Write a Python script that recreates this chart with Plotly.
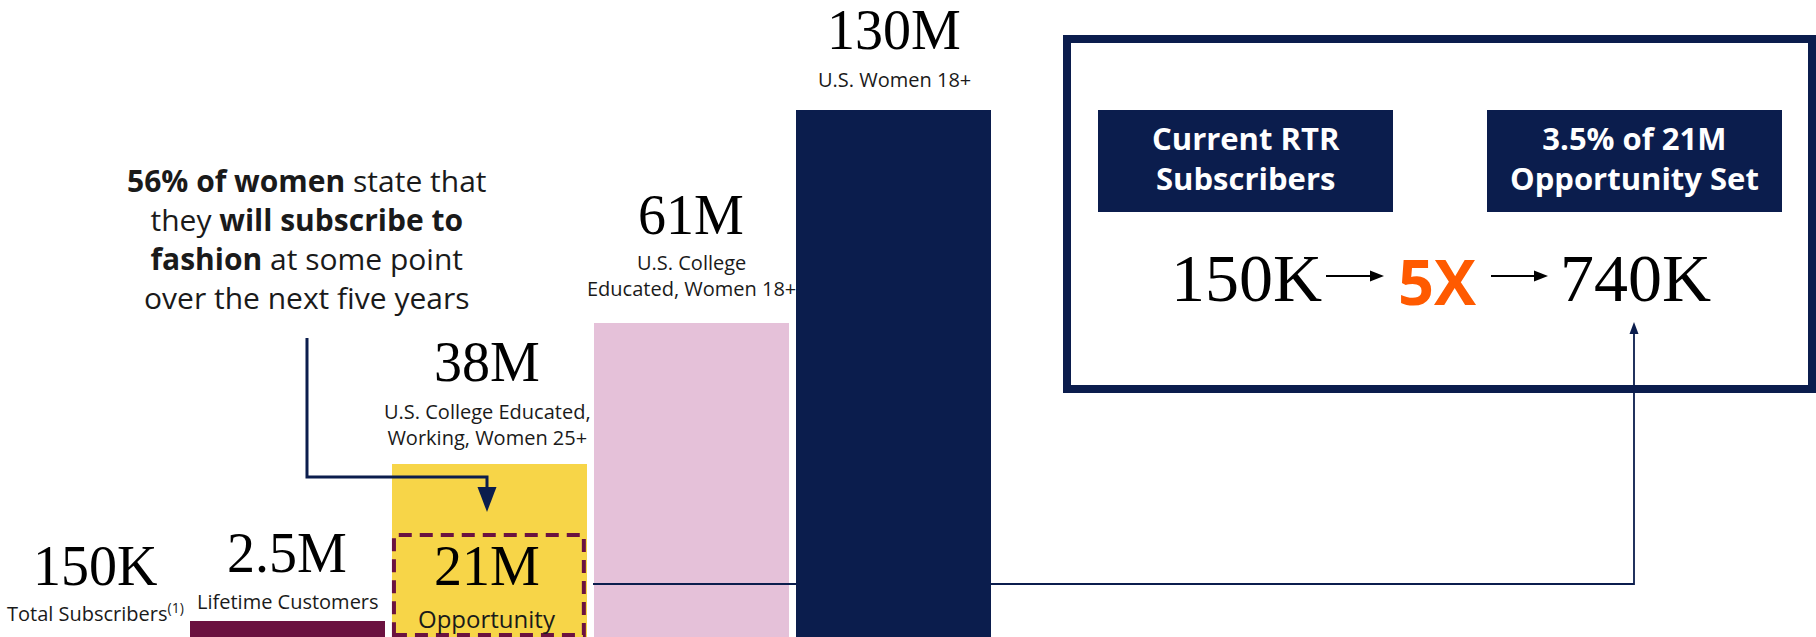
import plotly.graph_objects as go

W, H = 1816, 637

# ---------------- data ----------------
categories = ["Total Subscribers", "Lifetime Customers",
              "U.S. College Educated, Working, Women 25+",
              "U.S. College Educated, Women 18+", "U.S. Women 18+"]
value_labels = ["150K", "2.5M", "38M", "61M", "130M"]
sub_labels = ["Total Subscribers<sup>(1)</sup>", "Lifetime Customers",
              "U.S. College Educated,<br>Working, Women 25+",
              "U.S. College<br>Educated, Women 18+", "U.S. Women 18+"]
# drawn bar heights (the graphic is not to scale)
bar_heights = [0, 16, 173, 314, 527]
bar_colors = ["#6B1240", "#6B1240", "#F7D548", "#E5C1D9", "#0B1D4D"]

opportunity_label = "21M"
opportunity_sub = "Opportunity"
opportunity_index = 2
opportunity_height = 102

box_headers = ["Current RTR<br>Subscribers", "3.5% of 21M<br>Opportunity Set"]
current_subs = "150K"
multiplier = "5X"
target_subs = "740K"

NAVY = "#0B1D4D"
MAROON = "#6B1240"
ORANGE = "#FF5A00"
SERIF = "Liberation Serif, Times New Roman, serif"
SANS = "Open Sans, Noto Sans, sans-serif"

BAR_W = 0.964
x_idx = list(range(len(categories)))


def P(x, y):
    """pixel -> paper"""
    return x / W, 1 - y / H


fig = go.Figure()
fig.add_trace(go.Bar(x=x_idx, y=bar_heights, width=BAR_W,
                     marker=dict(color=bar_colors, line=dict(width=0)),
                     hovertext=categories, hoverinfo="text"))

shapes = []
annotations = []

# dashed opportunity box inside the 38M bar (data coords)
inset = 2 / 202.2
shapes.append(dict(type="rect", xref="x", yref="y",
                   x0=opportunity_index - BAR_W / 2 + inset,
                   x1=opportunity_index + BAR_W / 2 - inset * 1.5,
                   y0=2, y1=opportunity_height,
                   line=dict(color=MAROON, width=4, dash="13px,8px"),
                   fillcolor="rgba(0,0,0,0)", layer="above"))


def text(s, px, py, size, family=SANS, color="black", **kw):
    x, y = P(px, py)
    annotations.append(dict(text=s, x=x, y=y, xref="paper", yref="paper",
                            showarrow=False, xanchor="center", yanchor="middle",
                            font=dict(size=size, family=family, color=color), **kw))


def path(points, color=NAVY, width=3, fill=None):
    d = ""
    for i, (px, py) in enumerate(points):
        x, y = P(px, py)
        d += ("M" if i == 0 else "L") + f"{x:.5f},{y:.5f} "
    if fill:
        d += "Z"
    shapes.append(dict(type="path", xref="paper", yref="paper", path=d,
                       line=dict(color=color, width=width if not fill else 0),
                       fillcolor=fill if fill else "rgba(0,0,0,0)", layer="above"))


# value labels and sub labels
val_pos = [(95, 566), (287, 553), (487, 362), (691, 215), (894, 30)]
sub_pos = [(95, 612), (288, 601), (488, 424), (691, 276), (894, 79)]
for lab, sub, (vx, vy), (sx, sy) in zip(value_labels, sub_labels, val_pos, sub_pos):
    text(lab, vx, vy, 56, SERIF)
    text(sub, sx, sy, 20, SANS, "#1a1a1a")

text(opportunity_label, 487, 566, 56, SERIF)
text(opportunity_sub, 487, 618, 24, SANS, "#1a1a1a")

# left statement
text("<b>56% of women</b> state that<br>they <b>will subscribe to</b><br>"
     "<b>fashion</b> at some point<br>over the next five years",
     307, 239, 30, SANS, "#1a1a1a")

# arrow from statement to opportunity box
path([(307, 338), (307, 477), (487, 477), (487, 490)], NAVY, 3)
path([(477.5, 487), (496.5, 487), (487, 512)], fill=NAVY)

# connector from opportunity to 740K
path([(593, 584), (1634, 584), (1634, 332)], NAVY, 1.8)
path([(1629.5, 334), (1638.5, 334), (1634, 322)], fill=NAVY)

# right summary box
x0, y0 = P(1067, 39)
x1, y1 = P(1812, 389)
shapes.append(dict(type="rect", xref="paper", yref="paper", x0=x0, y0=y0, x1=x1, y1=y1,
                   line=dict(color=NAVY, width=8), fillcolor="rgba(0,0,0,0)", layer="above"))

for (bx0, bx1), hdr in zip([(1098, 1393), (1487, 1782)], box_headers):
    a0, b0 = P(bx0, 110)
    a1, b1 = P(bx1, 212)
    shapes.append(dict(type="rect", xref="paper", yref="paper", x0=a0, y0=b0, x1=a1, y1=b1,
                       line=dict(width=0), fillcolor=NAVY, layer="above"))
    text(f"<b>{hdr}</b>", (bx0 + bx1) / 2, 158, 31, SANS, "white")

text(current_subs, 1246, 278, 68, SERIF)
text(f"<b>{multiplier}</b>", 1437, 280, 63, SANS, ORANGE)
text(target_subs, 1635, 278, 68, SERIF)

# thin black arrows in the equation row
for ax0, ax1 in [(1326, 1384), (1491, 1548)]:
    path([(ax0, 276), (ax1 - 10, 276)], "black", 2.2)
    path([(ax1 - 14, 270.5), (ax1 - 14, 281.5), (ax1, 276)], fill="black")

fig.update_layout(
    width=W, height=H, margin=dict(l=0, r=0, t=0, b=0),
    paper_bgcolor="white", plot_bgcolor="white",
    showlegend=False, bargap=0,
    xaxis=dict(range=[-0.4204, 8.561], visible=False, fixedrange=True),
    yaxis=dict(range=[0, H], visible=False, fixedrange=True),
    shapes=shapes, annotations=annotations,
)

fig.write_html("out.html", config={"displayModeBar": False})
